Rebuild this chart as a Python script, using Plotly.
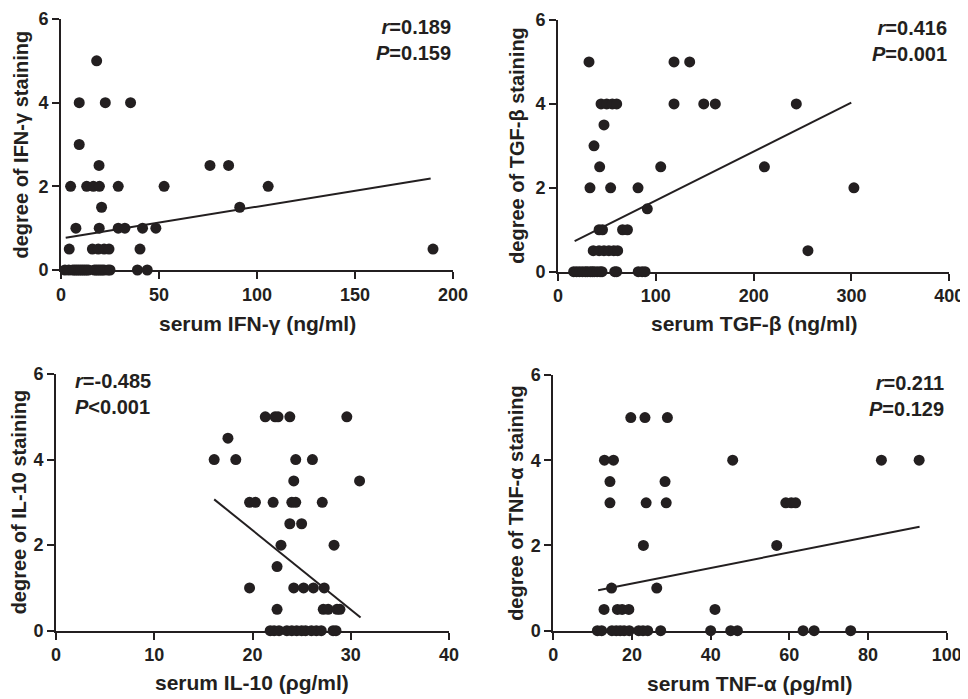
import plotly.graph_objects as go

W, H = 968, 699
OFF = 8  # page body margin compensation (pixels)

# ---- Data ----
ifn_x = [18.2, 9.3, 22.6, 35.5, 9.3, 19.4, 76, 85.5,
         4.9, 13.1, 16.5, 19.6, 29.2, 52.6, 105.7,
         20.7, 91.2,
         7.6, 19.5, 29.2, 32.6, 41.6, 48.4,
         4.2, 16.0, 19.0, 22.0, 24.5, 40.3, 189.8,
         2, 4, 6, 7, 8, 9, 10, 11, 12, 13, 14, 17, 18, 19, 20, 21, 22, 24, 25, 39, 44]
ifn_y = [5, 4, 4, 4, 3, 2.5, 2.5, 2.5,
         2, 2, 2, 2, 2, 2, 2,
         1.5, 1.5,
         1, 1, 1, 1, 1, 1,
         0.5, 0.5, 0.5, 0.5, 0.5, 0.5, 0.5,
         0, 0, 0, 0, 0, 0, 0, 0, 0, 0, 0, 0, 0, 0, 0, 0, 0, 0, 0, 0, 0]
ifn_fit_x = [2.4, 188.6]
ifn_fit_y = [0.77, 2.19]

tgf_x = [31.7, 118.6, 134.6,
         44, 49.8, 55.5, 60, 118.6, 149, 160.8, 243.6,
         47, 36.8, 42.6, 105, 211,
         32.7, 53.8, 81.8, 302.5,
         91.3,
         42, 45.5, 66, 71,
         36, 42, 47, 52, 57, 61, 255.5,
         16, 19, 22, 25, 28, 30, 33, 35, 37, 40, 43, 45, 58, 60, 82, 86, 89]
tgf_y = [5, 5, 5,
         4, 4, 4, 4, 4, 4, 4, 4,
         3.5, 3, 2.5, 2.5, 2.5,
         2, 2, 2, 2,
         1.5,
         1, 1, 1, 1,
         0.5, 0.5, 0.5, 0.5, 0.5, 0.5, 0.5,
         0, 0, 0, 0, 0, 0, 0, 0, 0, 0, 0, 0, 0, 0, 0, 0, 0]
tgf_fit_x = [17, 299.8]
tgf_fit_y = [0.73, 4.03]

il10_x = [21.3, 22.3, 22.6, 23.8, 29.6,
          17.5,
          16.1, 18.3, 24.4, 26.1,
          24.2, 30.9,
          19.7, 20.3, 22.1, 24.0, 24.4, 27.1,
          23.8, 25.0,
          22.9, 28.3,
          22.5,
          19.7, 24.2, 25.2, 26.2, 27.3,
          22.5, 27.2, 27.7, 28.6, 28.9,
          21.8, 22.2, 22.7, 23.5, 24.0, 24.5, 25.0, 25.4, 26.0, 26.5, 27.0, 28.2, 28.5]
il10_y = [5, 5, 5, 5, 5,
          4.5,
          4, 4, 4, 4,
          3.5, 3.5,
          3, 3, 3, 3, 3, 3,
          2.5, 2.5,
          2, 2,
          1.5,
          1, 1, 1, 1, 1,
          0.5, 0.5, 0.5, 0.5, 0.5,
          0, 0, 0, 0, 0, 0, 0, 0, 0, 0, 0, 0, 0]
il10_fit_x = [16.1, 31.0]
il10_fit_y = [3.07, 0.31]

tnf_x = [19.7, 23.3, 29.0,
         13.0, 15.3, 45.6, 83.4, 93.0,
         14.4, 28.4,
         14.4, 23.6, 28.7, 59.1, 60.5, 61.6,
         22.9, 56.8,
         14.8, 26.3,
         12.9, 16.3, 17.5, 19.2, 41.1,
         11.2, 12.3, 14.9, 16.0, 17.0, 18.0, 19.3, 21.7, 22.8, 24.0, 27.3,
         40.0, 45.1, 46.8, 63.5, 66.3, 75.6]
tnf_y = [5, 5, 5,
         4, 4, 4, 4, 4,
         3.5, 3.5,
         3, 3, 3, 3, 3, 3,
         2, 2,
         1, 1,
         0.5, 0.5, 0.5, 0.5, 0.5,
         0, 0, 0, 0, 0, 0, 0, 0, 0, 0, 0,
         0, 0, 0, 0, 0, 0]
tnf_fit_x = [11.4, 93.1]
tnf_fit_y = [0.95, 2.44]

x_titles = ["serum IFN-γ (ng/ml)", "serum TGF-β (ng/ml)",
            "serum IL-10 (ρg/ml)", "serum TNF-α (ρg/ml)"]
y_titles = ["degree of IFN-γ staining", "degree of TGF-β staining",
            "degree of IL-10 staining", "degree of TNF-α staining"]
stats = [("r", "=0.189", "P", "=0.159"), ("r", "=0.416", "P", "=0.001"),
         ("r", "=-0.485", "P", "<0.001"), ("r", "=0.211", "P", "=0.129")]
x_ranges = [(0, 200), (0, 400), (0, 40), (0, 100)]
x_dticks = [50, 100, 10, 20]

panels = [(ifn_x, ifn_y, ifn_fit_x, ifn_fit_y),
          (tgf_x, tgf_y, tgf_fit_x, tgf_fit_y),
          (il10_x, il10_y, il10_fit_x, il10_fit_y),
          (tnf_x, tnf_y, tnf_fit_x, tnf_fit_y)]

# ---- Layout geometry (page pixels) ----
boxes = [(61, 453, 19, 270), (558, 949.3, 20, 271.7),
         (56, 449, 374, 630.7), (553.3, 946.7, 375, 630.7)]
ytitle_x = [20, 517, 19, 516]
xtitle_y = [323, 323, 682, 683]
stat_pos = [(453, 40, "right"), (949, 41, "right"), (73, 394, "left"), (946, 396, "right")]


def fx(x):
    return (x - OFF) / W


def fy(y):
    return 1 - (y - OFF) / H


FONT = "Liberation Sans, Arial, sans-serif"
INK = "#231f20"

fig = go.Figure()
annotations = []
for i, (px, py, lx, ly) in enumerate(panels):
    xa = "x" if i == 0 else f"x{i+1}"
    ya = "y" if i == 0 else f"y{i+1}"
    fig.add_trace(go.Scatter(x=lx, y=ly, mode="lines", xaxis=xa, yaxis=ya,
                             line=dict(color=INK, width=2), showlegend=False,
                             cliponaxis=False))
    fig.add_trace(go.Scatter(x=px, y=py, mode="markers", xaxis=xa, yaxis=ya,
                             marker=dict(color=INK, size=11, line=dict(width=0)),
                             showlegend=False, cliponaxis=False))
    l, r, t, b = boxes[i]
    axis_common = dict(showgrid=False, zeroline=False, showline=True,
                       linecolor=INK, linewidth=2, ticks="outside", ticklen=7,
                       tickwidth=2, tickcolor=INK, automargin=False,
                       ticklabeloverflow="allow",
                       tickfont=dict(family=FONT, size=18, color=INK, weight="bold"))
    fig.layout[("xaxis" if i == 0 else f"xaxis{i+1}")] = dict(
        domain=[fx(l), fx(r)], range=list(x_ranges[i]), dtick=x_dticks[i], tick0=0,
        anchor=ya, **axis_common)
    fig.layout[("yaxis" if i == 0 else f"yaxis{i+1}")] = dict(
        domain=[fy(b), fy(t)], range=[0, 6], dtick=2, tick0=0,
        anchor=xa, **axis_common)
    annotations.append(dict(text=x_titles[i], xref="paper", yref="paper",
                            x=fx((l + r) / 2), y=fy(xtitle_y[i]),
                            showarrow=False, xanchor="center", yanchor="middle",
                            font=dict(family=FONT, size=21, color=INK, weight="bold")))
    annotations.append(dict(text=y_titles[i], xref="paper", yref="paper",
                            x=fx(ytitle_x[i]), y=fy((t + b) / 2), textangle=-90,
                            showarrow=False, xanchor="center", yanchor="middle",
                            borderpad=0,
                            font=dict(family=FONT, size=20, color=INK, weight="bold")))
    s = stats[i]
    sx, sy, al = stat_pos[i]
    annotations.append(dict(text=f"<i>{s[0]}</i>{s[1]}<br><i>{s[2]}</i>{s[3]}",
                            xref="paper", yref="paper", x=fx(sx), y=fy(sy),
                            showarrow=False, xanchor=al, yanchor="middle", align=al,
                            font=dict(family=FONT, size=20, color=INK, weight="bold")))

fig.update_layout(width=W, height=H,
                  margin=dict(l=0, r=0, t=0, b=0, pad=0, autoexpand=False),
                  plot_bgcolor="white", paper_bgcolor="white",
                  annotations=annotations, showlegend=False)

fig.write_html("out.html")
